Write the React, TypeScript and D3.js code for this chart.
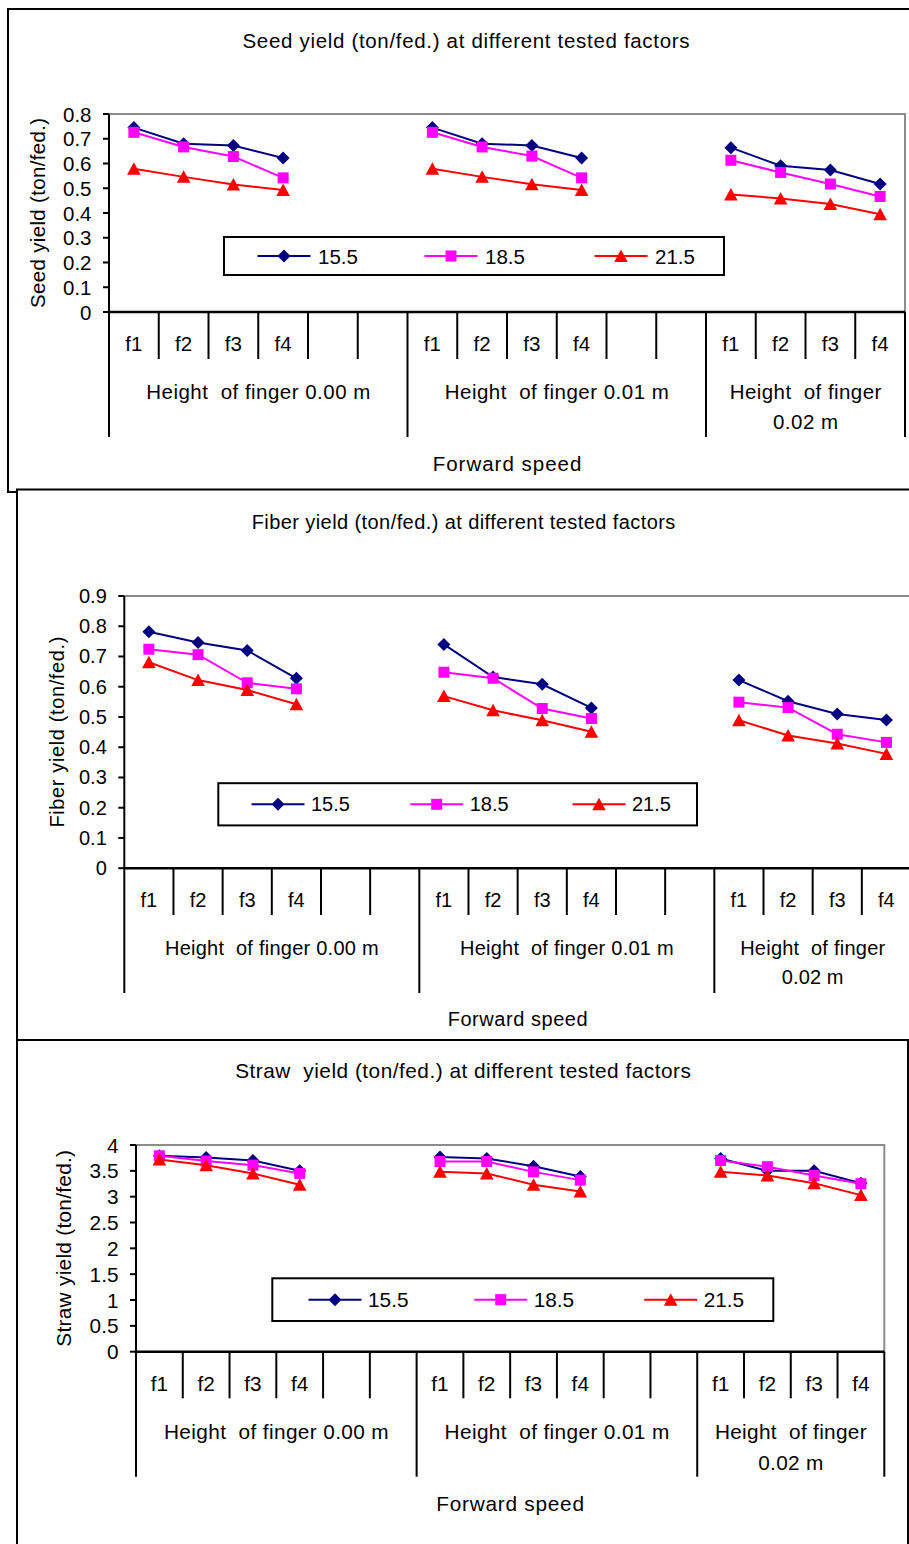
import React from 'react';
import * as d3 from 'd3';

// ---------- data ----------
const categories = ['f1', 'f2', 'f3', 'f4', '', '', 'f1', 'f2', 'f3', 'f4', '', '', 'f1', 'f2', 'f3', 'f4'];
const groupSizes = [6, 6, 4];
const groupLabels = [['Height  of finger 0.00 m'], ['Height  of finger 0.01 m'], ['Height  of finger', '0.02 m']];
const seriesNames = ['15.5', '18.5', '21.5'];
const seriesColors = ['#000080', '#FF00FF', '#FF0000'];
const seriesMarkers = ['diamond', 'square', 'triangle'];

const seedTicks = [0, 0.1, 0.2, 0.3, 0.4, 0.5, 0.6, 0.7, 0.8];
const fiberTicks = [0, 0.1, 0.2, 0.3, 0.4, 0.5, 0.6, 0.7, 0.8, 0.9];
const strawTicks = [0, 0.5, 1, 1.5, 2, 2.5, 3, 3.5, 4];

const seed155 = [0.745, 0.68, 0.673, 0.622, null, null, 0.745, 0.68, 0.673, 0.622, null, null, 0.664, 0.591, 0.574, 0.517];
const seed185 = [0.726, 0.667, 0.628, 0.542, null, null, 0.726, 0.667, 0.63, 0.542, null, null, 0.613, 0.564, 0.517, 0.467];
const seed215 = [0.579, 0.546, 0.515, 0.493, null, null, 0.579, 0.546, 0.516, 0.493, null, null, 0.475, 0.459, 0.436, 0.395];

const fiber155 = [0.782, 0.746, 0.72, 0.628, null, null, 0.74, 0.632, 0.608, 0.53, null, null, 0.622, 0.552, 0.51, 0.49];
const fiber185 = [0.724, 0.706, 0.613, 0.593, null, null, 0.648, 0.628, 0.528, 0.495, null, null, 0.549, 0.531, 0.443, 0.416];
const fiber215 = [0.681, 0.622, 0.589, 0.542, null, null, 0.569, 0.522, 0.489, 0.451, null, null, 0.489, 0.439, 0.412, 0.378];

const straw155 = [3.79, 3.76, 3.7, 3.5, null, null, 3.77, 3.74, 3.59, 3.39, null, null, 3.74, 3.5, 3.5, 3.26];
const straw185 = [3.79, 3.69, 3.61, 3.45, null, null, 3.68, 3.68, 3.48, 3.32, null, null, 3.7, 3.58, 3.41, 3.25];
const straw215 = [3.72, 3.61, 3.45, 3.23, null, null, 3.48, 3.45, 3.23, 3.1, null, null, 3.48, 3.41, 3.26, 3.03];

// ---------- layout ----------
const FONT = 'Liberation Sans, Arial, sans-serif';

const panels = [
  {
    title: 'Seed yield (ton/fed.) at different tested factors',
    yTitle: 'Seed yield (ton/fed.)',
    xTitle: 'Forward speed',
    ticks: seedTicks,
    series: [seed155, seed185, seed215],
    L: {
      box: { x: 8, y: 9, w: 1000, h: 483 },
      pl: 109, pr: 905, pt: 114, pb: 312, fs: 20.5,
      titleX: 466, titleY: 40, titleW: 447,
      yTitleX: 37, yTitleLen: 190,
      catLabelY: 343.3, catTickEnd: 359, groupTickEnd: 437, groupY: 391.7, group2Y: 421.7,
      groupW: [[224], [224], [151.7, 65]],
      fwdY: 463.3, fwdW: 148.7,
      legend: { x: 224, y: 237, w: 500, h: 38, mx: [284, 451, 621], dx: 34 },
    },
  },
  {
    title: 'Fiber yield (ton/fed.) at different tested factors',
    yTitle: 'Fiber yield (ton/fed.)',
    xTitle: 'Forward speed',
    ticks: fiberTicks,
    series: [fiber155, fiber185, fiber215],
    L: {
      box: { x: 17, y: 489.5, w: 1000, h: 551 },
      pl: 124.3, pr: 911, pt: 596, pb: 868.2, fs: 20,
      titleX: 463.5, titleY: 522, titleW: 423.6,
      yTitleX: 56.7, yTitleLen: 191,
      catLabelY: 900, catTickEnd: 915, groupTickEnd: 993, groupY: 948, group2Y: 977,
      groupW: [[213.7], [213.7], [145, 61.7]],
      fwdY: 1019, fwdW: 140,
      legend: { x: 218.3, y: 783.2, w: 478.7, h: 42.2, mx: [278, 436.7, 599], dx: 33 },
    },
  },
  {
    title: 'Straw  yield (ton/fed.) at different tested factors',
    yTitle: 'Straw yield (ton/fed.)',
    xTitle: 'Forward speed',
    ticks: strawTicks,
    series: [straw155, straw185, straw215],
    L: {
      box: { x: 17, y: 1040, w: 891, h: 600 },
      pl: 136, pr: 884.3, pt: 1145, pb: 1351.7, fs: 20.8,
      titleX: 463, titleY: 1070.7, titleW: 455.7,
      yTitleX: 63.3, yTitleLen: 196.7,
      catLabelY: 1383.3, catTickEnd: 1398.3, groupTickEnd: 1476.7, groupY: 1431.7, group2Y: 1462.3,
      groupW: [[224.7], [224.7], [151.7, 65]],
      fwdY: 1503.3, fwdW: 147.7,
      legend: { x: 272.3, y: 1278.3, w: 501, h: 42.7, mx: [335, 500.7, 670.7], dx: 33 },
    },
  },
];

function markerPath(type: string) {
  if (type === 'diamond') return 'M0,-6.5L6.5,0L0,6.5L-6.5,0Z';
  if (type === 'square') return 'M-5.5,-5.5H5.5V5.5H-5.5Z';
  return 'M0,-6.5L6.8,6L-6.8,6Z';
}

const pre = { whiteSpace: 'pre' as const };

function Panel({ cfg }: { cfg: any }) {
  const L = cfg.L;
  const x = d3.scaleBand<number>().domain(d3.range(categories.length)).range([L.pl, L.pr]).padding(0);
  const bw = x.bandwidth();
  const yMax = cfg.ticks[cfg.ticks.length - 1];
  const y = d3.scaleLinear().domain([0, yMax]).range([L.pb, L.pt]);
  const line = d3
    .line<number | null>()
    .defined((v) => v != null)
    .x((_, i) => (x(i) as number) + bw / 2)
    .y((v) => y(v as number));
  const bound = (i: number) => (i < categories.length ? (x(i) as number) : L.pr);
  const groupStarts: number[] = [];
  let acc = 0;
  groupSizes.forEach((g) => {
    groupStarts.push(acc);
    acc += g;
  });
  const groupBounds = new Set([...groupStarts, categories.length]);
  const fmt = d3.format('~g');
  const fs = L.fs;

  return (
    <g fontFamily={FONT} fill="#000">
      <rect x={L.box.x} y={L.box.y} width={L.box.w} height={L.box.h} fill="#fff" stroke="#000" strokeWidth={2} />
      <text
        x={L.titleX}
        y={L.titleY}
        fontSize={fs}
        textAnchor="middle"
        dominantBaseline="central"
        textLength={L.titleW}
        lengthAdjust="spacing"
        style={pre}
      >
        {cfg.title}
      </text>
      {/* plot area border (gray) */}
      <path d={`M${L.pl},${L.pt}H${L.pr}V${L.pb}`} fill="none" stroke="#8c8c8c" strokeWidth={2} />
      {/* y axis */}
      <line x1={L.pl} x2={L.pl} y1={L.pt} y2={L.pb} stroke="#000" strokeWidth={2} />
      {cfg.ticks.map((t: number) => (
        <g key={t}>
          <line x1={L.pl - 6} x2={L.pl} y1={y(t)} y2={y(t)} stroke="#000" strokeWidth={2} />
          <text x={L.pl - 17.5} y={y(t)} fontSize={fs} textAnchor="end" dominantBaseline="central">
            {fmt(t)}
          </text>
        </g>
      ))}
      <text
        transform={`translate(${L.yTitleX},${(L.pt + L.pb) / 2}) rotate(-90)`}
        fontSize={fs}
        textAnchor="middle"
        dominantBaseline="central"
        textLength={L.yTitleLen}
        lengthAdjust="spacing"
      >
        {cfg.yTitle}
      </text>
      {/* category axis */}
      <line x1={L.pl} x2={L.pr} y1={L.pb} y2={L.pb} stroke="#000" strokeWidth={2.5} />
      {d3.range(categories.length + 1).map((i) => (
        <line
          key={'b' + i}
          x1={bound(i)}
          x2={bound(i)}
          y1={L.pb}
          y2={groupBounds.has(i) ? L.groupTickEnd : L.catTickEnd}
          stroke="#000"
          strokeWidth={2}
        />
      ))}
      {categories.map((c, i) => (
        <text key={'c' + i} x={(x(i) as number) + bw / 2} y={L.catLabelY} fontSize={fs} textAnchor="middle" dominantBaseline="central">
          {c}
        </text>
      ))}
      {groupLabels.map((lines, gi) => {
        const s = bound(groupStarts[gi]);
        const e = bound(groupStarts[gi] + groupSizes[gi]);
        return lines.map((ln, li) => (
          <text
            key={'g' + gi + '-' + li}
            x={(s + e) / 2}
            y={li === 0 ? L.groupY : L.group2Y}
            fontSize={fs}
            textAnchor="middle"
            dominantBaseline="central"
            textLength={L.groupW[gi][li]}
            lengthAdjust="spacing"
            style={pre}
          >
            {ln}
          </text>
        ));
      })}
      <text x={(L.pl + L.pr) / 2} y={L.fwdY} fontSize={fs} textAnchor="middle" dominantBaseline="central" textLength={L.fwdW} lengthAdjust="spacing">
        {cfg.xTitle}
      </text>
      {/* series */}
      {cfg.series.map((s: (number | null)[], si: number) => (
        <g key={'s' + si}>
          <path d={line(s) || ''} fill="none" stroke={seriesColors[si]} strokeWidth={2} />
          {s.map((v, i) =>
            v == null ? null : (
              <path
                key={i}
                d={markerPath(seriesMarkers[si])}
                transform={`translate(${(x(i) as number) + bw / 2},${y(v)})`}
                fill={seriesColors[si]}
              />
            )
          )}
        </g>
      ))}
      {/* legend */}
      <rect x={L.legend.x} y={L.legend.y} width={L.legend.w} height={L.legend.h} fill="#fff" stroke="#000" strokeWidth={2} />
      {seriesNames.map((n, si) => {
        const cy = L.legend.y + L.legend.h / 2;
        const mx = L.legend.mx[si];
        return (
          <g key={'l' + si}>
            <line x1={mx - 26.5} x2={mx + 26.5} y1={cy} y2={cy} stroke={seriesColors[si]} strokeWidth={2} />
            <path d={markerPath(seriesMarkers[si])} transform={`translate(${mx},${cy})`} fill={seriesColors[si]} />
            <text x={mx + L.legend.dx} y={cy} fontSize={fs} dominantBaseline="central">
              {n}
            </text>
          </g>
        );
      })}
    </g>
  );
}

export default function App() {
  return (
    <svg
      width={909}
      height={1544}
      viewBox="0 0 909 1544"
      style={{ position: 'absolute', left: 0, top: 0, background: '#fff' }}
    >
      <rect x={0} y={0} width={909} height={1544} fill="#fff" />
      {panels.map((p, i) => (
        <Panel key={i} cfg={p} />
      ))}
    </svg>
  );
}
